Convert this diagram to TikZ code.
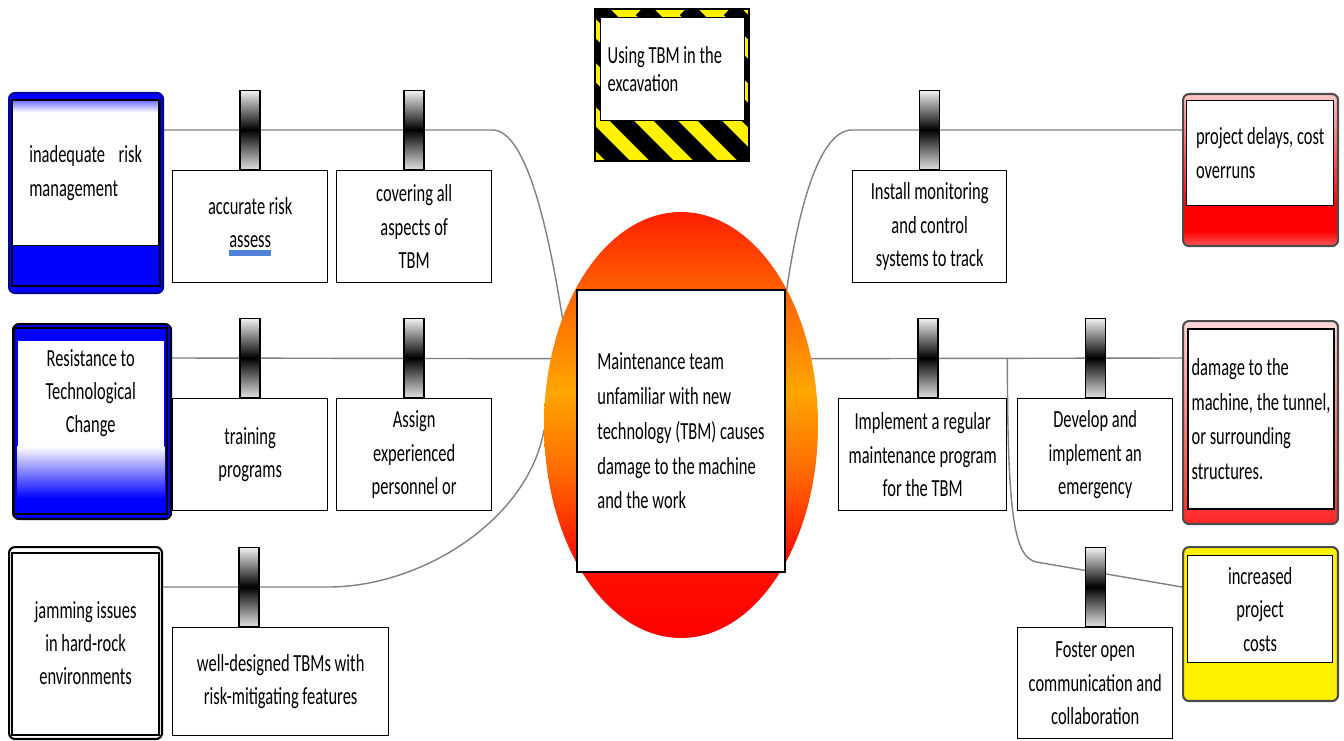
\documentclass[tikz,border=0pt]{standalone}
\usepackage{fontspec}
\setmainfont{Carlito}[FakeStretch=0.67]
\usetikzlibrary{shapes,positioning,calc,backgrounds}

\definecolor{linkgray}{RGB}{128,128,128}
\definecolor{markblue}{RGB}{80,130,220}
\definecolor{threatblue}{RGB}{0,0,255}

\newcommand\boxfont{\fontsize{14}{19}\selectfont}
\newcommand\signfont{\fontsize{14}{16}\selectfont}
\newcommand\spellmark[1]{\setbox0\hbox{#1}\rlap{\textcolor{markblue}{\rule[-4.5pt]{\wd0}{3.4pt}}}\box0}

\pgfdeclareverticalshading{topeventfill}{100bp}{color(0bp)=(red); color(25bp)=(red); rgb(35bp)=(1,0.08,0); rgb(45bp)=(1,0.43,0); rgb(54bp)=(1,0.65,0); rgb(65bp)=(1,0.4,0); rgb(75bp)=(1,0.12,0); rgb(100bp)=(1,0.12,0)}
\pgfdeclareverticalshading{bandtop}{100bp}{color(0bp)=(white); color(71bp)=(white); color(75bp)=(threatblue!55!white); color(100bp)=(threatblue!55!white)}
\pgfdeclareverticalshading{consredfill}{100bp}{color(0bp)=(red!65!white); color(25bp)=(red!65!white); color(30bp)=(red); color(38bp)=(red); color(75bp)=(red!22!white); color(100bp)=(red!22!white)}

\begin{document}
\begin{tikzpicture}[x=0.02cm, y=-0.02cm,
  barrier/.style={rectangle, draw=black, line width=0.8pt, fill=white, anchor=north west, align=center, inner sep=2pt, minimum width=3.1cm, minimum height=2.24cm, font=\boxfont},
  post/.style={rectangle, draw=black, line width=0.8pt, minimum width=0.4cm, minimum height=1.58cm, inner sep=0pt, top color=gray!10, bottom color=gray!25, middle color=black},
  outerbox/.style={rectangle, rounded corners=0.12cm, anchor=north west, line width=1.2pt},
  innerbox/.style={rectangle, draw=black, line width=0.8pt, fill=white, anchor=north west, inner sep=2pt, font=\boxfont},
  link/.style={draw=linkgray, line width=0.8pt}]

\useasboundingbox (0,0) rectangle (1344,740);

\coordinate (row1) at (0,130);
\coordinate (row2) at (0,358);
\coordinate (row3) at (0,587);

% HAZARD

\node [rectangle, draw=black, line width=1pt, fill=yellow, anchor=north west, minimum width=3.08cm, minimum height=3.04cm, path picture={\foreach \s in {-173,-129,...,135} \draw[black, line width=0.34cm] ([shift={(\s,0)}]path picture bounding box.north west) -- ++(200,200);}] (hazard) at (594,8) {};

\node [innerbox, minimum width=2.88cm, minimum height=2.06cm, align=flush left, text width=2.6cm, font=\signfont] (hazard-text) at ([shift={(6,9)}]hazard.north west)
{Using TBM in the\\excavation};

% TOP EVENT

\node [ellipse, shade, shading=topeventfill, minimum width=5.48cm, minimum height=8.52cm, inner sep=0pt, outer sep=0pt] (topevent) at (681,425) {};

\node [rectangle, draw=black, line width=0.8pt, fill=white, minimum width=4.16cm, minimum height=5.64cm, align=left, font=\fontsize{14}{19.8}\selectfont] (topevent-text) at (681,431)
{Maintenance team\\unfamiliar with new\\technology (TBM) causes\\damage to the machine\\and the work};

% THREATS

\node [outerbox, draw=blue!60!black, fill=threatblue, minimum width=3.08cm, minimum height=4cm] (threat1) at (8,92) {};
\draw [line width=0.8pt] ([shift={(4,8)}]threat1.north west) rectangle ([shift={(-4,-8)}]threat1.south east);
\node [innerbox, shade, shading=bandtop, minimum width=2.92cm, minimum height=2.9cm, align=left] (threat1-text) at ([shift={(4,8)}]threat1.north west)
{inadequate\hspace{0.55em}risk\\management};

\node [outerbox, draw=black, fill=threatblue, minimum width=3.16cm, minimum height=3.9cm] (threat2) at (12,323) {};
\draw [line width=0.8pt] ([shift={(2,5)}]threat2.north west) rectangle ([shift={(-5,-6)}]threat2.south east);
\node [innerbox, draw=none, minimum width=2.92cm, minimum height=2.1cm, align=center] (threat2-text) at ([shift={(5,17)}]threat2.north west)
{Resistance to\\Technological\\Change};
\shade [top color=white, bottom color=threatblue] (threat2-text.south west) rectangle ($(threat2-text.south east)+(0,52)$);

\node [outerbox, draw=black, fill=white, minimum width=3.06cm, minimum height=3.84cm, align=center, font=\boxfont] (threat3) at (8,546)
{jamming issues\\in hard-rock\\environments};
\draw [line width=0.8pt] ([shift={(4,7)}]threat3.north west) rectangle ([shift={(-4,-5)}]threat3.south east);

% CONSEQUENCES

\node [outerbox, draw=gray!60!black, shade, shading=consredfill, minimum width=3.1cm, minimum height=3.04cm] (cons1) at (1182,93) {};
\node [innerbox, minimum width=2.94cm, minimum height=2.1cm, align=left] (cons1-text) at ([shift={(4,7)}]cons1.north west)
{project delays, cost\\overruns};

\node [outerbox, draw=gray!60!black, top color=red!15!white, bottom color=red!85!white, minimum width=3.1cm, minimum height=4.06cm] (cons2) at (1182,320) {};
\node [innerbox, line width=1.2pt, minimum width=2.9cm, minimum height=3.6cm, align=left, font=\fontsize{14}{19.8}\selectfont] (cons2-text) at ([shift={(5,8)}]cons2.north west)
{damage to the\\machine, the tunnel,\\or surrounding\\structures.};

\node [outerbox, draw=gray!60!black, fill=yellow, minimum width=3.1cm, minimum height=3.08cm] (cons3) at (1182,546) {};
\node [innerbox, minimum width=2.9cm, minimum height=2.14cm, align=center] (cons3-text) at ([shift={(5,9)}]cons3.north west)
{increased\\project\\costs};

% BARRIERS

\node [barrier] (riskassess) at (172,170) {accurate risk\\\spellmark{assess}};
\node [barrier] (coverall) at (336,170) {covering all\\aspects of\\TBM};
\node [barrier] (training) at (172,398) {training\\programs};
\node [barrier] (assign) at (336,398) {Assign\\experienced\\personnel or};
\node [barrier, minimum width=4.32cm, minimum height=2.16cm] (welltbm) at (172,627) {well-designed TBMs with\\risk-mitigating features};

\node [barrier, minimum width=3.08cm] (monitoring) at (852,170) {Install monitoring\\and control\\systems to track};
\node [barrier, minimum width=3.36cm] (implement) at (838,398) {Implement a regular\\maintenance program\\for the TBM};
\node [barrier] (emergency) at (1017,398) {Develop and\\implement an\\emergency};
\node [barrier, minimum height=2.22cm] (foster) at (1017,627) {Foster open\\communication and\\collaboration};

\coordinate (fork) at (implement.east |- row2);

% CONNECTORS

\begin{scope}[on background layer]
\draw [link] (threat1.east |- row1) -- (coverall.east |- row1) .. controls +(34,0) and +(-14,-88) .. (topevent.138);
\draw [link] (threat2.east |- row2) -- (topevent.153);
\draw [link] (threat3.east |- row3) -- ++(165,0) .. controls +(94,0) and +(-16,90) .. (topevent.182);
\draw [link] (topevent.52) .. controls +(10,-70) and +(-35,0) .. (monitoring.west |- row1) -- (cons1.west |- row1);
\draw [link] (topevent.27) -- (cons2.west |- row2);
\draw [link] (fork) .. controls +(0,160) and +(-22,-5) .. ++(29,204) -- (cons3.west |- row3);
\end{scope}

% POSTS

\node [post, above=0pt of riskassess] (riskassess-post) {};
\node [post, above=0pt of coverall] (coverall-post) {};
\node [post, above=0pt of training] (training-post) {};
\node [post, above=0pt of assign] (assign-post) {};
\node [post, above=0pt of welltbm.north west, xshift=1.54cm] (welltbm-post) {};
\node [post, above=0pt of monitoring] (monitoring-post) {};
\node [post, above=0pt of implement.north west, xshift=1.8cm] (implement-post) {};
\node [post, above=0pt of emergency] (emergency-post) {};
\node [post, above=0pt of foster] (foster-post) {};

\end{tikzpicture}
\end{document}
